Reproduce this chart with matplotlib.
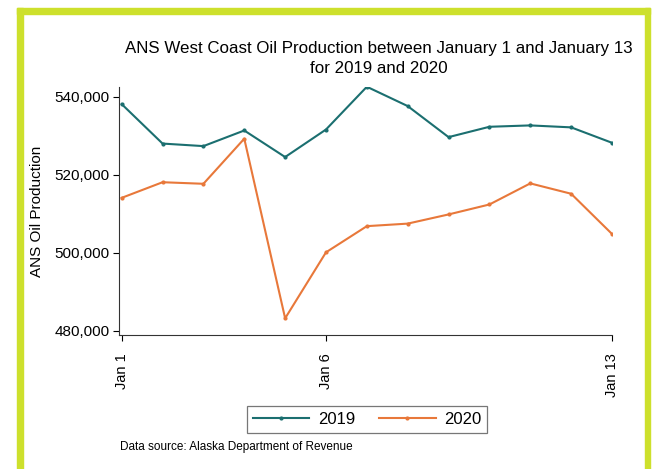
import matplotlib
matplotlib.use("Agg")
import matplotlib.pyplot as plt
from matplotlib.patches import Rectangle
from matplotlib.ticker import FuncFormatter

plt.rcParams['font.family'] = ['Liberation Sans', 'DejaVu Sans']

# Datos (barriles por dia)
dias = list(range(1, 14))
prod_2019 = [538100, 528000, 527350, 531350, 524550, 531600, 542550,
             537600, 529650, 532300, 532650, 532150, 528200]
prod_2020 = [514100, 518100, 517700, 529250, 483250, 500150, 506850,
             507500, 509850, 512400, 517800, 515150, 504850]
ticks_x = [1, 6, 13]
etiquetas_x = ["Jan 1", "Jan 6", "Jan 13"]
ticks_y = [480000, 500000, 520000, 540000]

color_2019 = "#1b6f70"
color_2020 = "#e8783a"
verde = "#cde02c"

W, H = 655, 469
fig = plt.figure(figsize=(W / 100, H / 100), dpi=100)

# Marco verde
fig.patches.append(Rectangle((17 / W, 0), 6 / W, 1 - 8 / H, transform=fig.transFigure,
                             color=verde, zorder=0))
fig.patches.append(Rectangle((17 / W, 1 - 14 / H), (650 - 17) / W, 6 / H,
                             transform=fig.transFigure, color=verde, zorder=0))
fig.patches.append(Rectangle((645 / W, 0), 5 / W, 1 - 8 / H, transform=fig.transFigure,
                             color=verde, zorder=0))

# Area del grafico en pixeles
x0, x1 = 119, 612
y0, y1 = 87, 335
ax = fig.add_axes([x0 / W, 1 - y1 / H, (x1 - x0) / W, (y1 - y0) / H])

ax.plot(dias, prod_2019, color=color_2019, lw=1.5, marker='o', ms=2, label="2019")
ax.plot(dias, prod_2020, color=color_2020, lw=1.5, marker='o', ms=2, label="2020")

px_dia = (612 - 121.7) / 12
ax.set_xlim(1 - 2.7 / px_dia, 13)
px_val = 78 / 20000
ax.set_ylim(480000 - 4 / px_val, 540000 + 9.7 / px_val)

ax.set_xticks(ticks_x)
ax.set_xticklabels(etiquetas_x, rotation=90, fontsize=10.5, va='top')
ax.set_yticks(ticks_y)
ax.yaxis.set_major_formatter(FuncFormatter(lambda v, p: f"{int(v):,}"))
ax.tick_params(axis='y', labelsize=11, length=4, width=0.8, pad=3)
ax.tick_params(axis='x', length=4, width=0.8, pad=9)

for s in ['top', 'right']:
    ax.spines[s].set_visible(False)
for s in ['left', 'bottom']:
    ax.spines[s].set_linewidth(0.8)
    ax.spines[s].set_color("#333333")

ax.set_ylabel("ANS Oil Production", fontsize=11, labelpad=7)

fig.text(379 / W, 1 - 58.5 / H, "ANS West Coast Oil Production between January 1 and January 13\nfor 2019 and 2020",
         ha='center', va='center', fontsize=12.2, linespacing=1.38)

leg = fig.legend(loc='center', bbox_to_anchor=(367 / W, 1 - 419.5 / H), ncol=2, fontsize=12,
                 frameon=True, fancybox=False, edgecolor="#555555", handlelength=3.4,
                 columnspacing=1.45, borderpad=0.35, handletextpad=0.5)
leg.get_frame().set_linewidth(0.9)

fig.text(120 / W, 1 - 447 / H, "Data source: Alaska Department of Revenue",
         ha='left', va='center', fontsize=8.5)

fig.savefig("out.png", dpi=100)
